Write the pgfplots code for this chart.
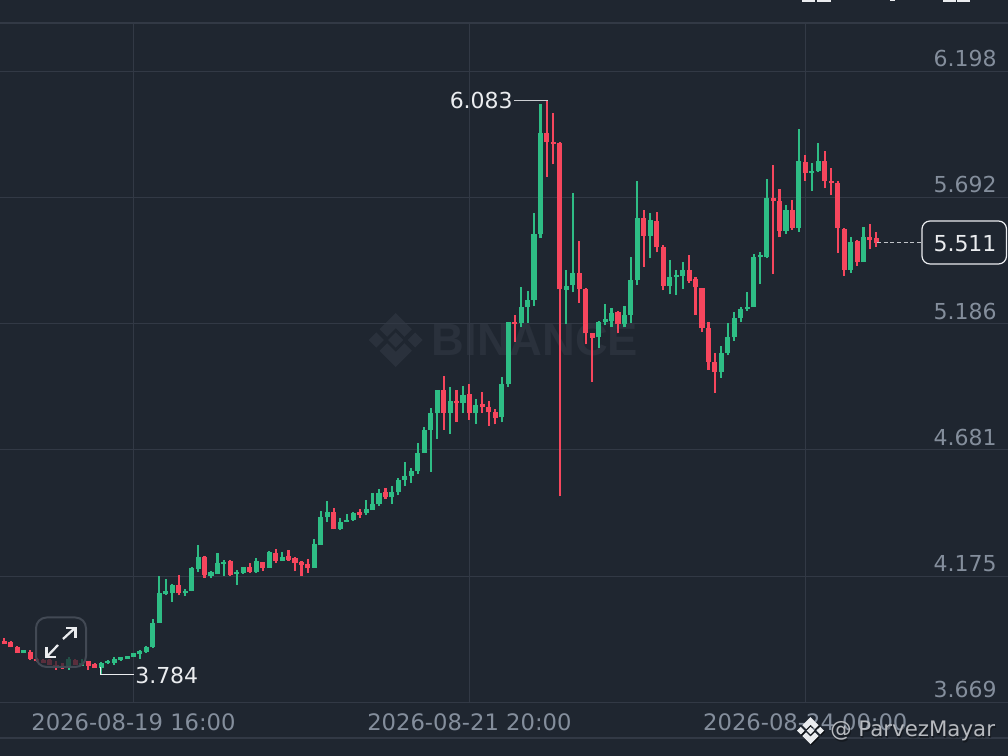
\documentclass[border=0pt]{standalone}
\usepackage{pgfplots}
\usepackage{pgfplotstable}
\usepackage{fontspec}
\pgfplotsset{compat=1.18}
\setmainfont{DejaVu Sans}
\newfontfamily\wm{Liberation Sans}[BoldFont={Liberation Sans Bold}]
\definecolor{bg}{HTML}{1F2630}
\definecolor{gridc}{HTML}{323945}
\definecolor{txt}{HTML}{848E9C}
\definecolor{upc}{HTML}{2EBD85}
\definecolor{downc}{HTML}{F6465D}
\definecolor{wmc}{HTML}{2A313C}
\definecolor{lite}{HTML}{EAECEF}
\pgfplotstableread{
k low bot top high
-17 3.866 3.867 3.878 3.878
-10 3.801 3.806 3.842 3.853
-8 3.815 3.815 3.829 3.845
-5 3.783 3.809 3.827 3.830
-4 3.825 3.826 3.837 3.838
-3 3.821 3.826 3.845 3.851
-2 3.835 3.839 3.851 3.853
-1 3.843 3.843 3.854 3.855
0 3.853 3.853 3.866 3.867
1 3.845 3.862 3.876 3.880
2 3.869 3.870 3.890 3.897
3 3.887 3.890 3.988 4.002
4 3.989 3.989 4.106 4.176
5 4.100 4.102 4.114 4.164
6 4.072 4.106 4.140 4.142
8 4.096 4.106 4.114 4.125
9 4.114 4.117 4.209 4.212
10 4.193 4.203 4.251 4.299
12 4.166 4.176 4.190 4.197
13 4.185 4.185 4.227 4.267
14 4.176 4.225 4.233 4.240
16 4.140 4.183 4.193 4.200
17 4.185 4.187 4.211 4.213
19 4.188 4.190 4.237 4.249
21 4.207 4.208 4.271 4.277
23 4.235 4.237 4.253 4.272
28 4.207 4.208 4.304 4.323
29 4.300 4.300 4.412 4.436
30 4.392 4.411 4.431 4.476
32 4.360 4.363 4.393 4.407
33 4.392 4.392 4.401 4.424
34 4.397 4.400 4.430 4.431
36 4.420 4.427 4.444 4.479
37 4.440 4.440 4.464 4.508
38 4.458 4.463 4.510 4.523
40 4.466 4.491 4.512 4.536
41 4.500 4.511 4.562 4.567
42 4.536 4.560 4.576 4.631
43 4.550 4.578 4.596 4.608
44 4.586 4.595 4.669 4.709
45 4.670 4.670 4.761 4.773
46 4.594 4.761 4.827 4.849
47 4.726 4.827 4.921 4.921
49 4.745 4.830 4.875 4.932
51 4.830 4.869 4.901 4.936
53 4.785 4.827 4.861 4.884
57 4.791 4.813 4.945 4.974
58 4.934 4.945 5.195 5.195
60 5.172 5.191 5.252 5.332
61 5.191 5.252 5.282 5.319
62 5.259 5.282 5.546 5.631
63 5.531 5.545 5.952 6.067
67 5.184 5.322 5.339 5.402
68 5.312 5.342 5.390 5.709
72 5.088 5.132 5.195 5.199
73 5.180 5.195 5.205 5.264
74 5.175 5.199 5.228 5.249
76 5.172 5.184 5.221 5.259
77 5.191 5.221 5.360 5.452
78 5.343 5.360 5.610 5.757
80 5.448 5.539 5.602 5.629
83 5.304 5.338 5.372 5.442
84 5.303 5.374 5.382 5.402
85 5.327 5.376 5.402 5.435
91 4.968 4.994 5.071 5.099
92 5.060 5.071 5.132 5.188
93 5.119 5.132 5.211 5.232
94 5.192 5.209 5.245 5.252
95 5.239 5.244 5.255 5.315
96 5.253 5.253 5.452 5.464
97 5.347 5.452 5.462 5.472
98 5.448 5.452 5.691 5.765
101 5.546 5.559 5.642 5.661
103 5.555 5.569 5.837 5.968
105 5.719 5.792 5.800 5.832
106 5.796 5.797 5.840 5.909
111 5.391 5.402 5.512 5.535
113 5.435 5.435 5.533 5.573
}\upcandles
\pgfplotstableread{
k low bot top high
-20 3.903 3.903 3.917 3.926
-19 3.890 3.890 3.913 3.917
-18 3.869 3.869 3.891 3.895
-16 3.839 3.843 3.871 3.878
-15 3.831 3.834 3.845 3.847
-14 3.826 3.826 3.839 3.843
-13 3.819 3.821 3.839 3.842
-12 3.801 3.806 3.819 3.837
-11 3.803 3.806 3.815 3.826
-9 3.818 3.821 3.839 3.842
-7 3.799 3.817 3.834 3.837
-6 3.809 3.809 3.822 3.829
7 4.098 4.106 4.140 4.178
11 4.168 4.178 4.253 4.256
15 4.176 4.178 4.236 4.240
18 4.188 4.193 4.211 4.229
20 4.195 4.207 4.232 4.233
22 4.229 4.237 4.267 4.285
24 4.237 4.240 4.256 4.281
25 4.195 4.229 4.248 4.252
26 4.176 4.220 4.232 4.236
27 4.189 4.207 4.224 4.244
31 4.363 4.363 4.431 4.447
35 4.409 4.420 4.433 4.444
39 4.484 4.491 4.511 4.528
48 4.761 4.830 4.921 4.977
50 4.793 4.867 4.878 4.920
52 4.801 4.827 4.904 4.945
54 4.830 4.851 4.863 4.914
55 4.778 4.831 4.853 4.877
56 4.783 4.807 4.834 4.843
59 5.112 5.185 5.195 5.221
64 5.776 5.916 5.952 6.083
65 5.825 5.906 5.916 6.032
66 4.496 5.324 5.912 5.916
69 5.271 5.327 5.390 5.516
70 5.104 5.148 5.327 5.328
71 4.953 5.131 5.148 5.151
75 5.148 5.184 5.232 5.239
79 5.415 5.539 5.611 5.642
81 5.472 5.492 5.599 5.634
82 5.320 5.338 5.492 5.500
86 5.351 5.359 5.403 5.460
87 5.221 5.332 5.364 5.375
88 5.155 5.168 5.331 5.331
89 5.001 5.034 5.171 5.195
90 4.909 4.994 5.034 5.068
99 5.386 5.678 5.690 5.824
100 5.532 5.559 5.678 5.726
102 5.562 5.569 5.641 5.681
104 5.760 5.792 5.836 5.862
107 5.729 5.760 5.840 5.880
108 5.702 5.749 5.760 5.809
109 5.471 5.569 5.752 5.760
110 5.379 5.402 5.566 5.569
112 5.419 5.432 5.516 5.522
114 5.484 5.522 5.533 5.586
115 5.495 5.511 5.529 5.553
}\downcandles
\newcommand{\candles}[2]{%
  \addplot[draw=none, forget plot, error bars/.cd, y dir=plus, y explicit, error mark=none,
    error bar style={draw=#2, line width=1.6pt}]
    table[x=k, y=low, y error plus expr=\thisrow{high}-\thisrow{low}] {#1};
  \addplot[draw=none, forget plot, error bars/.cd, y dir=plus, y explicit, error mark=none,
    error bar style={draw=#2, line width=3.8pt}]
    table[x=k, y=bot, y error plus expr=\thisrow{top}-\thisrow{bot}] {#1};
}
\newcommand{\logo}[4]{% x y halfextent colour
  \begin{scope}[shift={(#1,#2)}, x=#3*0.75pt, y=#3*0.75pt]
    \fill[#4] (0,.28)--(.28,0)--(0,-.28)--(-.28,0)--cycle;
    \fill[#4] (-.72,.28)--(-.44,0)--(-.72,-.28)--(-1,0)--cycle;
    \fill[#4] (.72,.28)--(1,0)--(.72,-.28)--(.44,0)--cycle;
    \fill[#4] (0,1)--(.6,.4)--(.32,.12)--(0,.44)--(-.32,.12)--(-.6,.4)--cycle;
    \fill[#4] (0,-1)--(.6,-.4)--(.32,-.12)--(0,-.44)--(-.32,-.12)--(-.6,-.4)--cycle;
  \end{scope}}
\begin{document}
\begin{tikzpicture}[px/.style={x=0.75pt, y=-0.75pt, shift={(0pt,567pt)}}]
\useasboundingbox (0,0) rectangle (756pt,567pt);
\fill[bg] (0,0) rectangle (756pt,567pt);
\begin{scope}[px]
  \logo{395.7}{340}{27}{wmc}
  \node[anchor=center, text=wmc, font=\wm\bfseries\fontsize{34}{34}\selectfont, inner sep=0] at (535,340) {BINANCE};
  \draw[gridc, line width=0.9pt] (0,738) -- (1008,738);
\end{scope}
\begin{axis}[
  at={(0pt,40.125pt)}, anchor=south west,
  scale only axis, width=756pt, height=509.625pt,
  xmin=-20.666, xmax=135.37, ymin=3.669, ymax=6.3911,
  separate axis lines,
  x axis line style={draw=gridc, line width=0.9pt},
  y axis line style={draw=none},
  grid=major, major grid style={draw=gridc, line width=0.9pt},
  major tick length=0pt,
  xtick={0,52,104},
  xticklabels={2026-08-19 16:00,2026-08-21 20:00,2026-08-24 00:00},
  ytick={3.669,4.175,4.681,5.186,5.692,6.198},
  yticklabels={3.669,4.175,4.681,5.186,5.692,6.198},
  yticklabel pos=right,
  tick label style={text=txt},
  xticklabel style={font=\fontsize{17}{17}\selectfont, anchor=center, yshift=-14.6pt},
  yticklabel style={font=\fontsize{16.5}{16.5}\selectfont, anchor=east, xshift=-5pt, yshift=9.5pt},
  clip=true,
]
\candles{\upcandles}{upc}
\candles{\downcandles}{downc}
\end{axis}
\begin{scope}[px]
  % high / low / last annotations
  \draw[lite!85!bg, line width=0.9pt] (514,100.3) -- (547.5,100.3);
  \node[anchor=east, text=lite, font=\fontsize{16.5}{16.5}\selectfont, inner sep=0] at (513,101) {6.083};
  \draw[lite, line width=0.9pt] (100.5,667) -- (100.5,674.3) -- (134,674.3);
  \node[anchor=west, text=lite, font=\fontsize{16.5}{16.5}\selectfont, inner sep=0] at (135,675) {3.784};
  \draw[lite!80!bg, line width=0.9pt, dash pattern=on 3pt off 2pt] (877,242.7) -- (921,242.7);
  \draw[lite, fill=bg, line width=0.9pt, rounded corners=6pt] (922,221) rectangle (1006.5,264);
  \node[text=lite, font=\fontsize{16.5}{16.5}\selectfont, inner sep=0] at (965,244) {5.511};
  % expand button
  \fill[bg, opacity=0.72, rounded corners=8pt] (36,617.5) rectangle (86,667);
  \draw[gridc!92!white, line width=1.5pt, rounded corners=8pt] (36,617.5) rectangle (86,667);
  \draw[lite, line width=1.7pt] (63,639) -- (75,628);
  \draw[lite, line width=1.7pt] (66,628) -- (75.5,628) -- (75.5,638);
  \draw[lite, line width=1.7pt] (58,645) -- (47,656.5);
  \draw[lite, line width=1.7pt] (46.5,647) -- (46.5,657) -- (56,657);
  % top edge fragments
  \fill[lite] (802,0) rectangle (815,1.8);
  \fill[lite] (817,0) rectangle (831,1.8);
  \fill[lite] (890,0) rectangle (895,1);
  \fill[lite] (943,0) rectangle (956,1.8);
  \fill[lite] (957,0) rectangle (970,1.8);
  % author watermark
  \logo{811.5}{732}{13.5}{black!60!bg}
  \logo{810.5}{730.7}{13.5}{lite}
  \node[anchor=west, text=black, opacity=0.35, font=\fontsize{16}{16}\selectfont, inner sep=0] at (831,732.5) {@ ParvezMayar};
  \node[anchor=west, text=lite!75!bg, font=\fontsize{16}{16}\selectfont, inner sep=0] at (830,731) {@ ParvezMayar};
\end{scope}
\end{tikzpicture}
\end{document}
